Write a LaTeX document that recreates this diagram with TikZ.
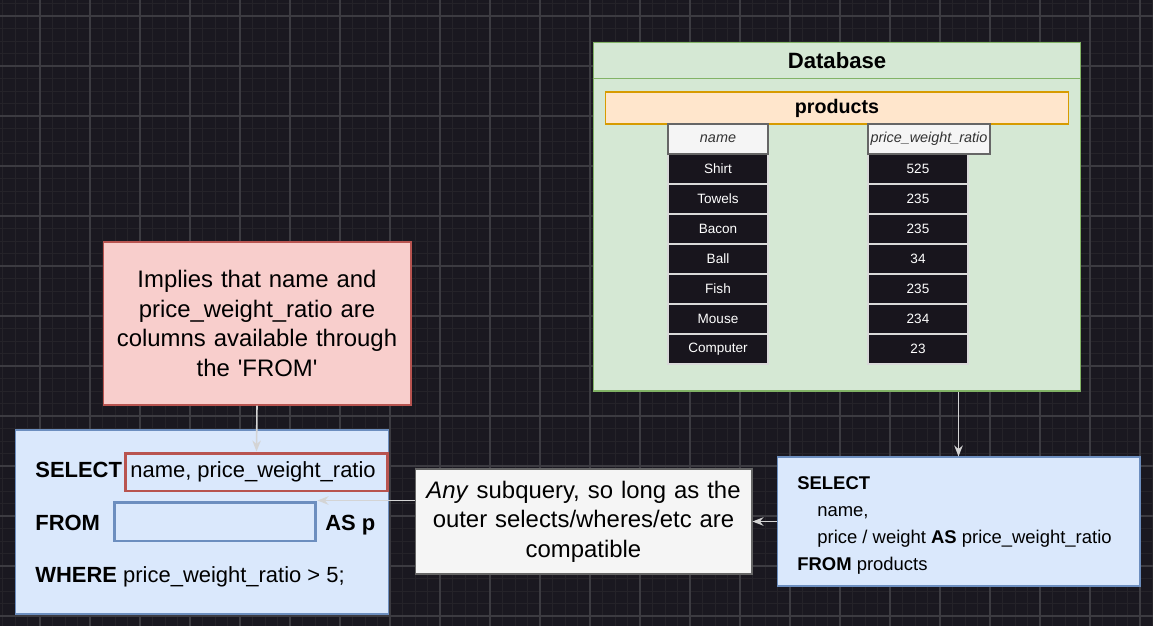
\documentclass[tikz,border=0pt]{standalone}
\usepackage{fontspec}
\setmainfont{Liberation Sans}
\usetikzlibrary{arrows.meta}
\definecolor{BG}{HTML}{1A1820}
\definecolor{GridMinor}{HTML}{252329}
\definecolor{GridMajor}{HTML}{3C3B41}
\definecolor{DbFill}{HTML}{D5E8D4}
\definecolor{DbLine}{HTML}{82B366}
\definecolor{TblFill}{HTML}{FFE6CC}
\definecolor{TblLine}{HTML}{D79B00}
\definecolor{HdFill}{HTML}{F5F5F5}
\definecolor{HdLine}{HTML}{666666}
\definecolor{HdText}{HTML}{333333}
\definecolor{CellFill}{HTML}{18151D}
\definecolor{CellLine}{HTML}{D9D9D9}
\definecolor{NoteFill}{HTML}{F8CECC}
\definecolor{NoteLine}{HTML}{B85450}
\definecolor{SqlFill}{HTML}{DAE8FC}
\definecolor{SqlLine}{HTML}{6C8EBF}
\definecolor{ArrLine}{HTML}{D4D4D4}

\begin{document}
\begin{tikzpicture}[x=0.02cm, y=-0.02cm,
  plainbox/.style={draw, line width=0.6pt, inner sep=0pt},
  hd/.style={plainbox, fill=HdFill, draw=HdLine, text=HdText, minimum width=2cm, minimum height=0.6cm, font=\fontsize{8.2}{10}\selectfont\itshape},
  cell/.style={plainbox, fill=CellFill, draw=CellLine, text=white, minimum width=2cm, minimum height=0.6cm, font=\fontsize{7.7}{9}\selectfont},
  sqltxt/.style={anchor=base west, inner sep=0pt, font=\fontsize{12.5}{15}\selectfont},
  sqlkw/.style={sqltxt, font=\fontsize{12.5}{15}\selectfont\bfseries},
  rtxt/.style={anchor=base west, inner sep=0pt, font=\fontsize{10.5}{13}\selectfont},
  rkw/.style={rtxt, font=\fontsize{10.5}{13}\selectfont\bfseries},
  arr/.style={draw=ArrLine, line width=0.9pt, -{Stealth[length=2.2mm, width=1.7mm]}},
]
\useasboundingbox (0,0) rectangle (1153,626);%
\fill[BG] (0,0) rectangle (1153,626);%
% grid
\foreach \i in {0,...,92} \draw[GridMinor, line width=0.5pt] (2.5+12.5*\i,0) -- (2.5+12.5*\i,626);%
\foreach \j in {0,...,49} \draw[GridMinor, line width=0.5pt] (0,3.5+12.5*\j) -- (1153,3.5+12.5*\j);%
\foreach \i in {0,...,22} \draw[GridMajor, line width=0.6pt] (40+50*\i,0) -- (40+50*\i,626);%
\foreach \j in {0,...,12} \draw[GridMajor, line width=0.6pt] (0,16+50*\j) -- (1153,16+50*\j);%
% database
\node[plainbox, fill=DbFill, draw=DbLine, minimum width=9.76cm, minimum height=6.98cm] (db) at (837,216.5) {};%
\node[font=\fontsize{12.6}{15}\selectfont\bfseries] (dbtitle) at (837,60.5) {Database};%
\draw[DbLine, line width=0.6pt] ([yshift=-0.74cm]db.north west) -- ([yshift=-0.74cm]db.north east);%
\node[plainbox, fill=TblFill, draw=TblLine, minimum width=9.28cm, minimum height=0.64cm, font=\fontsize{11.2}{13}\selectfont\bfseries] (tbl) at (837,108) {products};%
\foreach \nm/\val [count=\r] in {Shirt/525,Towels/235,Bacon/235,Ball/34,Fish/235,Mouse/234,Computer/23}{%
  \node[cell] (name\r) at (718,139+30*\r) {\nm};%
  \node[cell] (ratio\r) at (918,139+30*\r) {\val};%
}%
\node[hd] (namehd) at (718,139) {name};%
\node[hd, minimum width=2.44cm] (ratiohd) at (929,139) {price\_weight\_ratio};%
% note
\node[plainbox, fill=NoteFill, draw=NoteLine, minimum width=6.16cm, minimum height=3.26cm, text width=6cm, align=center, font=\fontsize{13.6}{17}\selectfont] (note) at (257,323.5) {Implies that name and\\price\_weight\_ratio are\\columns available through\\the \textquotesingle FROM\textquotesingle};%
% outer query
\node[plainbox, fill=SqlFill, draw=SqlLine, minimum width=7.48cm, minimum height=3.68cm] (lsql) at (202,522) {};%
\node[plainbox, draw=NoteLine, line width=1.7pt, minimum width=5.26cm, minimum height=0.76cm] (selbox) at (256.5,472) {};%
\node[plainbox, draw=SqlLine, line width=1.7pt, minimum width=4.04cm, minimum height=0.78cm] (fromblk) at (215,521.5) {};%
\node[sqlkw] (selkw) at (35,477) {SELECT};%
\node[sqltxt] (selcols) at (130,477) {name, price\_weight\_ratio};%
\node[sqlkw] (fromkw) at (35,530) {FROM};%
\node[sqlkw] (alias) at (325,530) {AS p};%
\node[sqltxt] (wherecl) at (35,582) {\textbf{WHERE} price\_weight\_ratio > 5;};%
% middle
\node[plainbox, fill=HdFill, draw=HdLine, minimum width=6.74cm, minimum height=2.1cm, text width=6.5cm, align=center, font=\fontsize{13.6}{16.7}\selectfont] (mid) at (583.5,521.5) {\textit{Any} subquery, so long as the\\outer selects/wheres/etc are\\compatible};%
% subquery
\node[plainbox, fill=SqlFill, draw=SqlLine, minimum width=7.26cm, minimum height=2.58cm] (rsql) at (958.5,521.5) {};%
\node[rkw] (rsel) at (797,489) {SELECT};%
\node[rtxt] (rname) at (817,516) {name,};%
\node[rtxt] (rratio) at (817,543) {price / weight \textbf{AS} price\_weight\_ratio};%
\node[rtxt] (rfrom) at (797,570) {\textbf{FROM} products};%
% arrows
\draw[arr] (db.south -| rsql.north) -- (rsql.north);%
\draw[arr] (rsql.west) -- (mid.east);%
\draw[arr] (mid.west |- fromblk.north east) -- (fromblk.north east);%
\draw[arr] (note.south) -- (selbox.north);%
\end{tikzpicture}
\end{document}
